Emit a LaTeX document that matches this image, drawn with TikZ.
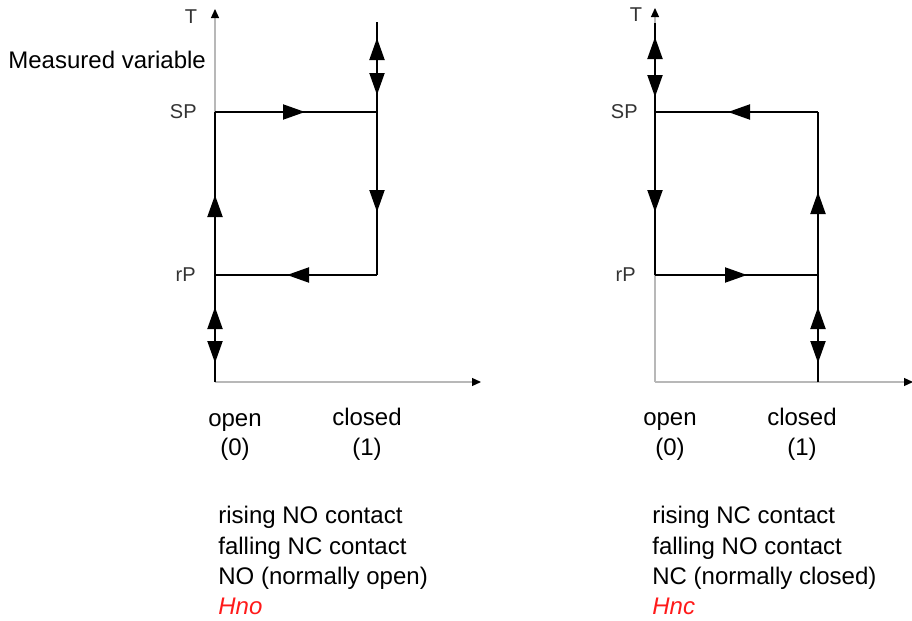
\documentclass[tikz,border=0pt]{standalone}
\usepackage{fontspec}
\setmainfont{Liberation Sans}
\usetikzlibrary{arrows.meta,decorations.markings}
\definecolor{axisgrey}{HTML}{B8B8B8}
\definecolor{lblgrey}{HTML}{333333}
\definecolor{dispred}{HTML}{FF1A1A}
\tikzset{
  axisline/.style={draw=axisgrey, line width=0.6pt, -{Triangle[length=4.5pt,width=4pt,color=black]}},
  flow/.style={draw=black, line width=1pt},
  mk/.style={postaction={decorate,decoration={markings,mark=at position #1 with {\arrow{Triangle[length=11pt,width=7.5pt]}}}}},
  mkr/.style={postaction={decorate,decoration={markings,mark=at position #1 with {\arrowreversed{Triangle[length=11pt,width=7.5pt]}}}}},
  axlbl/.style={text=lblgrey, font=\fontsize{10}{12}\selectfont, inner sep=0pt},
  txt/.style={font=\fontsize{12}{15}\selectfont, inner sep=0pt},
  disp/.style={text=dispred, font=\fontsize{12}{15}\selectfont\itshape, inner sep=0pt}
}
\begin{document}
\begin{tikzpicture}[x=0.5pt,y=-0.5pt]
\useasboundingbox (0,0) rectangle (912,621);
% ---------- left diagram ----------
\coordinate (lO) at (215,382);
\coordinate (lYtop) at (215,9);
\coordinate (lXend) at (481,382);
\coordinate (lS) at (215,112);
\coordinate (lR) at (215,275);
\coordinate (lSc) at (377,112);
\coordinate (lRc) at (377,275);
\coordinate (lTop) at (377,22);
\draw[axisline] (lO) -- (lYtop);
\draw[axisline] (lO) -- (lXend);
\draw[flow, mkr=8pt, mk=36.5pt, mk=95pt] (lTop) -- (lRc);
\draw[flow, mk=45pt] (lS) -- (lSc);
\draw[flow, mk=45pt] (lRc) -- (lR);
\draw[flow, mk=93.5pt, mk=37.5pt, mkr=9.5pt] (lO) -- (lS);
\node[axlbl] (lT) at (191,17) {T};
\node[txt, anchor=west] (lmv) at (8,60) {Measured variable};
\node[axlbl, anchor=east] (lSP) at (197,112) {SP};
\node[axlbl, anchor=east] (lrP) at (196,275) {rP};
\node[txt, anchor=base] (lopen) at (235,426) {open};
\node[txt, anchor=base] (l0) at (235,455) {(0)};
\node[txt, anchor=base] (lclosed) at (367,425) {closed};
\node[txt, anchor=base] (l1) at (367,455) {(1)};
\node[txt, anchor=base west] (la) at (218,523) {rising NO contact};
\node[txt, anchor=base west] (lb) at (218,554) {falling NC contact};
\node[txt, anchor=base west] (lc) at (218,584) {NO (normally open)};
\node[disp, anchor=base west] (ld) at (218,614) {Hno};
% ---------- right diagram ----------
\coordinate (rO) at (655,382);
\coordinate (rYtop) at (655,8);
\coordinate (rXend) at (913,382);
\coordinate (rS) at (655,112);
\coordinate (rR) at (655,275);
\coordinate (rSc) at (818,112);
\coordinate (rRc) at (818,275);
\coordinate (rTop) at (655,23);
\coordinate (rBot) at (818,382);
\draw[axisline] (rO) -- (rYtop);
\draw[axisline] (rO) -- (rXend);
\draw[flow, mkr=7pt, mk=37pt, mk=94.5pt] (rTop) -- (rR);
\draw[flow, mk=45pt] (rSc) -- (rS);
\draw[flow, mk=46pt] (rR) -- (rRc);
\draw[flow, mkr=9.5pt, mk=37.5pt, mk=95pt] (rBot) -- (rSc);
\node[axlbl] (rT) at (636,15) {T};
\node[axlbl, anchor=east] (rSP) at (638,112) {SP};
\node[axlbl, anchor=east] (rrP) at (636,275) {rP};
\node[txt, anchor=base] (ropen) at (670,425) {open};
\node[txt, anchor=base] (r0) at (670,455) {(0)};
\node[txt, anchor=base] (rclosed) at (802,425) {closed};
\node[txt, anchor=base] (r1) at (802,455) {(1)};
\node[txt, anchor=base west] (ra) at (652,523) {rising NC contact};
\node[txt, anchor=base west] (rb) at (652,554) {falling NO contact};
\node[txt, anchor=base west] (rc) at (652,584) {NC (normally closed)};
\node[disp, anchor=base west] (rd) at (652,614) {Hnc};
\end{tikzpicture}
\end{document}
